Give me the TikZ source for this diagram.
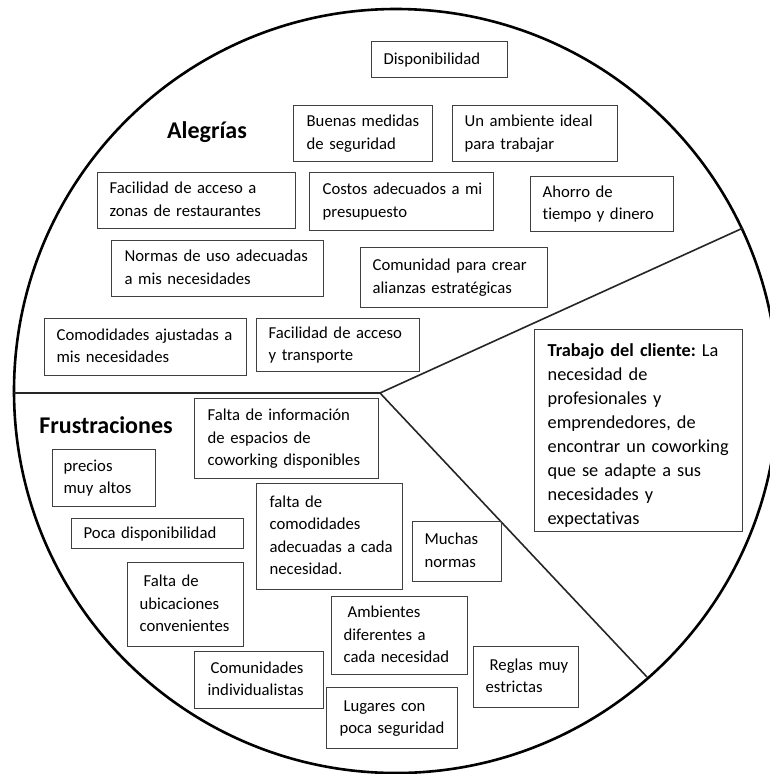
\documentclass[tikz,border=0pt]{standalone}
\usepackage{fontspec}
\setmainfont{Carlito}[Ligatures=NoCommon]
\frenchspacing
% stacked left-aligned lines that never re-wrap
\newcommand{\rows}[1]{\begin{tabular}{@{}l@{}}#1\end{tabular}}

\begin{document}
\begin{tikzpicture}[x=1pt,y=-1pt,
  tbox/.style={draw=black!75, line width=1.3pt, anchor=north west,
    inner ysep=0pt, font=\fontsize{16.7}{22.5}\selectfont, text=black},
  bigbox/.style={tbox, font=\fontsize{18.3}{24}\selectfont},
  heading/.style={font=\fontsize{24}{28}\selectfont\bfseries, inner sep=0pt},
  rim/.style={draw=black, line width=2.6pt},
  divider/.style={draw=black!85, line width=1.6pt}]

\useasboundingbox (0,0) rectangle (770,774);
\clip (0,0) rectangle (770,774);

% outer circle and the three sector dividers
\draw[rim] (396,391) circle[radius=382pt];
\coordinate (hub) at (380,393);
\coordinate (westend) at (14,393);
\coordinate (upperend) at (743,228);
\coordinate (lowerend) at (647,677);
\draw[divider] (westend) -- (hub) -- (upperend);
\draw[divider] (hub) -- (lowerend);

% section headings
\node[heading] (alegrias) at (207,132) {Alegrías};
\node[heading] (frustraciones) at (106,425) {Frustraciones};

% gains
\node[tbox, text width=112pt, inner xsep=12pt, minimum height=36pt] (disp) at (371,41) {\rows{Disponibilidad}};
\node[tbox, text width=113pt, inner xsep=13pt, minimum height=56pt] (seguridad) at (293,105) {\rows{Buenas medidas\\de seguridad}};
\node[tbox, text width=141pt, inner xsep=12pt, minimum height=56pt] (ambiente) at (452,105) {\rows{Un ambiente ideal\\para trabajar}};
\node[tbox, text width=174pt, inner xsep=12pt, minimum height=56pt] (restaurantes) at (97,172) {\rows{Facilidad de acceso a\\zonas de restaurantes}};
\node[tbox, text width=158pt, inner xsep=13pt, minimum height=58pt] (costos) at (309,172) {\rows{Costos adecuados a mi\\presupuesto}};
\node[tbox, text width=119pt, inner xsep=12pt, minimum height=55pt] (ahorro) at (530,176) {\rows{Ahorro de\\tiempo y dinero}};
\node[tbox, text width=186pt, inner xsep=13pt, minimum height=56pt] (normas) at (111,240) {\rows{Normas de uso adecuadas\\a mis necesidades}};
\node[tbox, text width=163pt, inner xsep=12pt, minimum height=60pt] (comunidad) at (360,247) {\rows{Comunidad para crear\\alianzas estratégicas}};
\node[tbox, text width=178pt, inner xsep=12pt, minimum height=57pt] (comodidades) at (44,318) {\rows{Comodidades ajustadas a\\mis necesidades}};
\node[tbox, text width=139pt, inner xsep=12pt, minimum height=53pt] (transporte) at (256,318) {\rows{Facilidad de acceso\\y transporte}};

% customer job (text sits low in its box, so the first row gets extra headroom)
\node[bigbox, text width=182pt, inner xsep=13pt, minimum height=201pt] (trabajo) at (534,329)
  {\rows{\rule{0pt}{26.8pt}\textbf{Trabajo del cliente:} La\\necesidad de\\profesionales y\\emprendedores, de\\encontrar un coworking\\que se adapte a sus\\necesidades y\\expectativas}};

% pains
\node[tbox, text width=158pt, inner xsep=13pt, minimum height=80pt] (informacion) at (194,398) {\rows{Falta de información\\de espacios de\\coworking disponibles}};
\node[tbox, text width=81pt, inner xsep=11pt, minimum height=57pt] (precios) at (52,449) {\rows{precios\\muy altos}};
\node[tbox, text width=148pt, inner xsep=12pt, minimum height=30pt] (poca) at (71,518) {\rows{Poca disponibilidad}};
\node[tbox, text width=120pt, inner xsep=13pt, minimum height=106pt] (faltacom) at (256,483) {\rows{falta de\\comodidades\\adecuadas a cada\\necesidad.}};
\node[tbox, text width=65pt, inner xsep=12pt, minimum height=60pt] (muchas) at (412,521) {\rows{Muchas\\normas}};
\node[tbox, text width=92pt, inner xsep=12pt, minimum height=84pt] (ubicaciones) at (127,562) {\rows{\hspace{4pt}Falta de\\ubicaciones\\convenientes}};
\node[tbox, text width=112pt, inner xsep=12pt, minimum height=78pt] (ambientes) at (331,596) {\rows{\hspace{4pt}Ambientes\\diferentes a\\cada necesidad}};
\node[tbox, text width=103pt, inner xsep=13pt, minimum height=57pt] (individualistas) at (194,651) {\rows{\hspace{3pt}Comunidades\\individualistas}};
\node[tbox, text width=105pt, inner xsep=13pt, minimum height=61pt] (lugares) at (326,687) {\rows{\hspace{4pt}Lugares con\\poca seguridad}};
\node[tbox, text width=81pt, inner xsep=12pt, minimum height=61pt] (reglas) at (473,646) {\rows{\hspace{4pt}Reglas muy\\estrictas}};

\end{tikzpicture}
\end{document}
